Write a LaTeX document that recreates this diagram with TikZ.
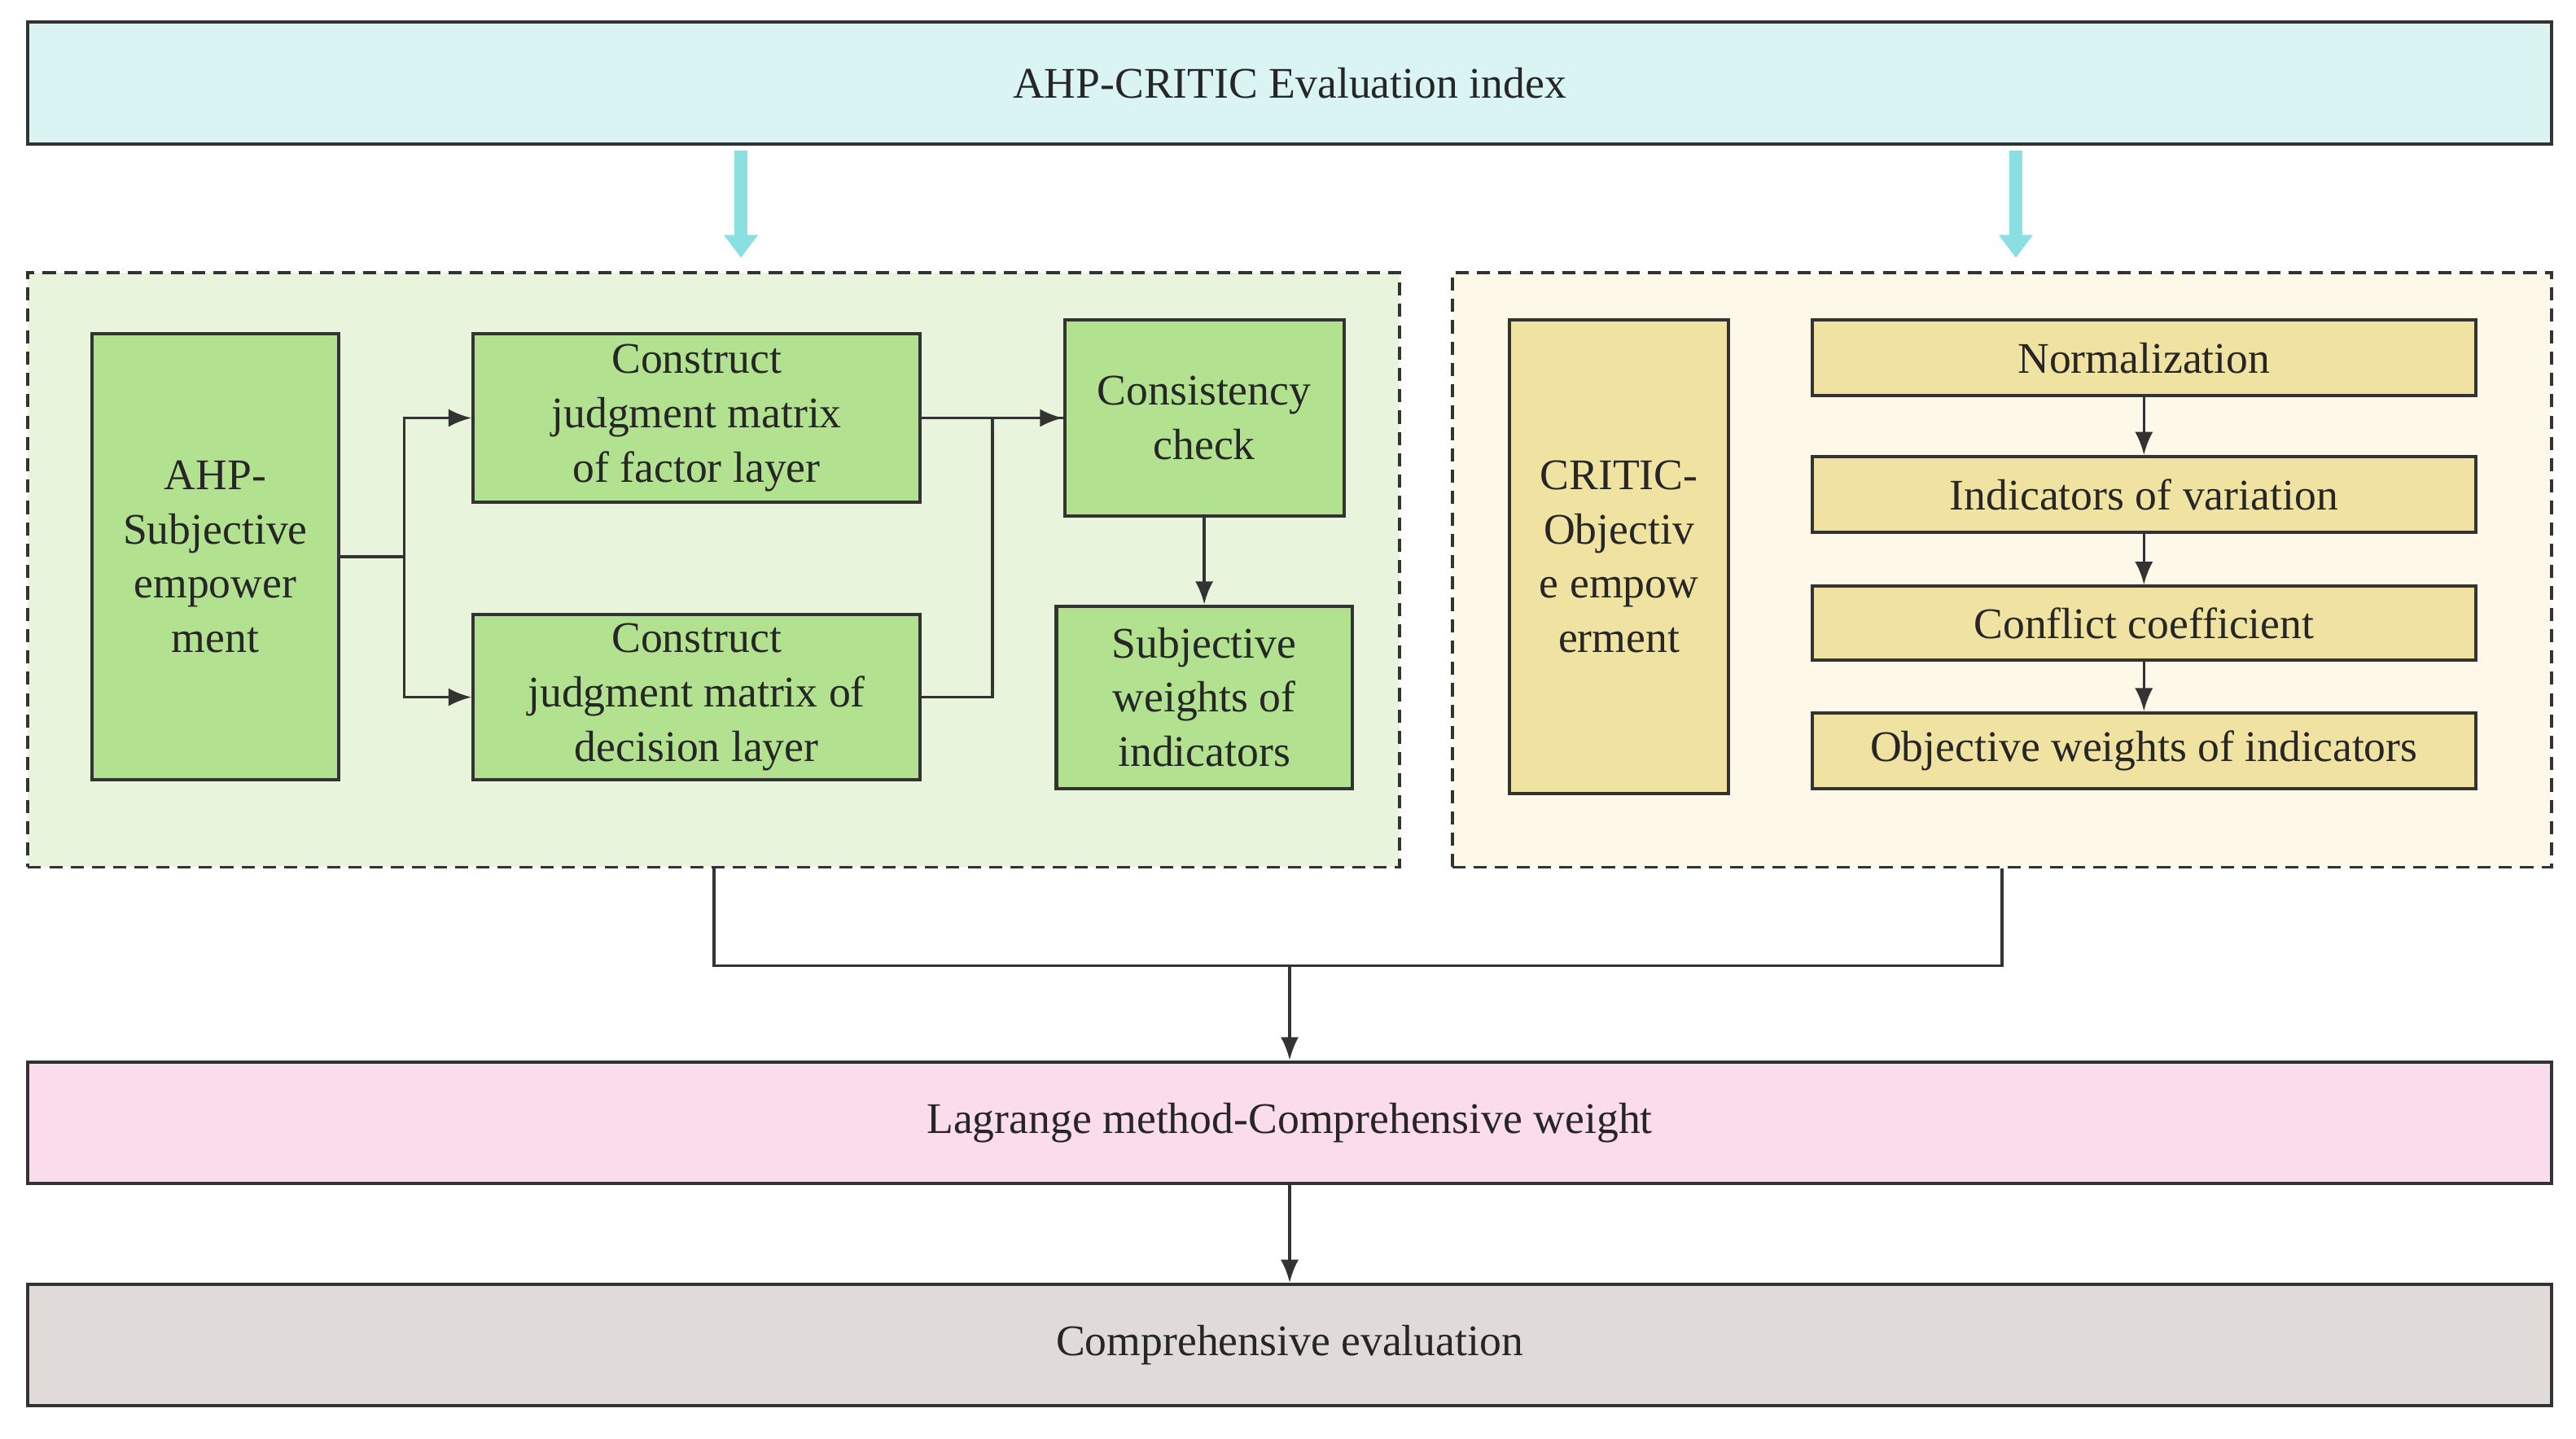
\documentclass[tikz,border=0pt]{standalone}
\usepackage{fontspec}
\setmainfont{Liberation Serif}
\usetikzlibrary{positioning,calc,arrows.meta}
\definecolor{topcyan}{HTML}{DAF4F4}
\definecolor{arrcyan}{HTML}{8ADFE0}
\definecolor{leftbg}{HTML}{E8F5DC}
\definecolor{rightbg}{HTML}{FDF8E8}
\definecolor{greenbox}{HTML}{B2E28F}
\definecolor{yellowbox}{HTML}{F0E2A0}
\definecolor{pinkbox}{HTML}{FADCEC}
\definecolor{greybox}{HTML}{E0DAD9}
\definecolor{edge}{HTML}{333333}
\tikzset{
    every node/.style={font=\fontsize{13.3}{16.5}\selectfont, text=black!85},
    widebox/.style={draw=edge, line width=1pt, inner sep=0pt, minimum width=768pt, minimum height=37pt},
    dashbox/.style={draw=edge, line width=0.9pt, dashed, dash pattern=on 4pt off 2.5pt, inner sep=0pt},
    greenrect/.style={draw=edge, fill=greenbox, line width=1pt, align=center, inner sep=0pt},
    yellowrect/.style={draw=edge, fill=yellowbox, line width=1pt, align=center, inner sep=0pt},
    arrow/.style={-{Latex[length=7pt,width=5.5pt]}, draw=edge, line width=0.9pt},
    line/.style={draw=edge, line width=0.9pt},
    bigarrow/.style={-{Triangle[length=7pt,width=10pt]}, draw=arrcyan, line width=4pt},
}
\begin{document}
\begin{tikzpicture}[x=0.5pt,y=-0.5pt]
\useasboundingbox (0,0) rectangle (1568,876);
% top and bottom bands
\node[widebox, fill=topcyan] (index) at (785,50.5) {AHP-CRITIC Evaluation index};
\node[widebox, fill=pinkbox] (lagrange) at (785,683.5) {Lagrange method-Comprehensive weight};
\node[widebox, fill=greybox] (evaluation) at (785,819) {Comprehensive evaluation};

% dashed groups
\node[dashbox, fill=leftbg, minimum width=417.5pt, minimum height=181pt] (ahpgroup) at (434.5,347) {};
\node[dashbox, fill=rightbg, minimum width=334.5pt, minimum height=181pt] (criticgroup) at (1218.5,347) {};

% AHP side
\node[greenrect, minimum width=75pt, minimum height=136pt] (ahp) at (131,339) {AHP-\\Subjective\\empower\\ment};
\node[greenrect, minimum width=136pt, minimum height=51.5pt] (factor) at (424,254.5) {Construct\\judgment matrix\\of factor layer};
\node[greenrect, minimum width=136pt, minimum height=50.5pt] (decision) at (424,424.5) {Construct\\judgment matrix of\\decision layer};
\node[greenrect, minimum width=85pt, minimum height=59.5pt] (check) at (733,254.5) {Consistency\\check};
\node[greenrect, minimum width=90pt, minimum height=55.5pt] (subjw) at (733,424.5) {Subjective\\weights of\\indicators};

% CRITIC side
\node[yellowrect, minimum width=66.5pt, minimum height=144pt] (critic) at (985.5,339) {CRITIC-\\Objectiv\\e empow\\erment};
\node[yellowrect, minimum width=202pt, minimum height=23pt] (norm) at (1305,218) {Normalization};
\node[yellowrect, minimum width=202pt, minimum height=23pt] (variation) at (1305,301) {Indicators of variation};
\node[yellowrect, minimum width=202pt, minimum height=22.5pt] (conflict) at (1305,379.5) {Conflict coefficient};
\node[yellowrect, minimum width=202pt, minimum height=23pt] (objw) at (1305,457) {Objective weights of indicators};

% cyan arrows
\coordinate (cyanl) at (451,157);
\coordinate (cyanr) at (1227,157);
\draw[bigarrow] (index.south -| cyanl) ++(0,3) -- (cyanl);
\draw[bigarrow] (index.south -| cyanr) ++(0,3) -- (cyanr);

% AHP connectors
\coordinate (split) at (246,339);
\coordinate (merge) at (604,424.5);
\draw[line] (ahp.east) -- (split);
\draw[arrow] (split) |- (factor.west);
\draw[arrow] (split) |- (decision.west);
\draw[arrow] (factor.east) -- (check.west);
\draw[line] (decision.east) -- (merge) |- (check.west);
\draw[arrow] (check.south) -- (subjw.north);

% CRITIC connectors
\draw[arrow] (norm.south) -- (variation.north);
\draw[arrow] (variation.south) -- (conflict.north);
\draw[arrow] (conflict.south) -- (objw.north);

% merge to Lagrange
\coordinate (joinl) at (434.5,588);
\coordinate (joinr) at (1218.5,588);
\coordinate (join) at (785,588);
\draw[line] (ahpgroup.south) -- (joinl) -- (joinr) -- (criticgroup.south);
\draw[arrow] (join) -- (lagrange.north);
\draw[arrow] (lagrange.south) -- (evaluation.north);
\end{tikzpicture}
\end{document}
